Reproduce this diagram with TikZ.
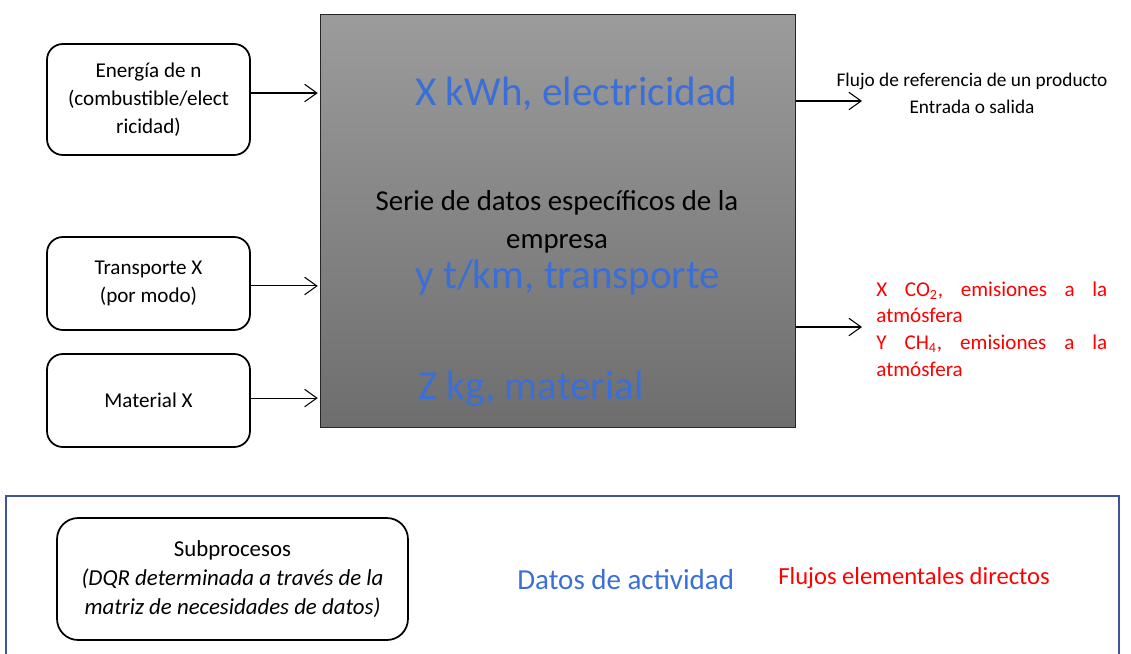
\documentclass[tikz,border=0pt]{standalone}
\usepackage{fontspec}
\setmainfont{Carlito}
\usetikzlibrary{positioning, arrows.meta}
\definecolor{datablue}{RGB}{58,111,216}
\definecolor{flowred}{RGB}{255,0,0}
\definecolor{legendblue}{RGB}{63,85,151}
\tikzset{
    flow/.style={-{Straight Barb[length=7pt,width=10pt]}, line width=0.6pt},
    inbox/.style={draw, line width=1pt, rounded corners=9pt, minimum width=4.06cm,
        align=center, font=\fontsize{12}{15.8}\selectfont},
    process/.style={draw=black!85, line width=0.6pt, minimum width=9.52cm, minimum height=8.28cm,
        top color=black!39, bottom color=black!57},
    activity/.style={text=datablue, inner sep=0pt, font=\fontsize{23.4}{28}\selectfont},
    elemflow/.style={text=flowred, inner sep=0pt, font=\fontsize{12}{15.3}\selectfont},
}

\begin{document}
\begin{tikzpicture}[x=0.02cm, y=-0.02cm]
\useasboundingbox (0,0) rectangle (1131,653);

% proceso central
\node[process] (proc) at (558,221) {};
\node[activity, anchor=base west] (kwh) at (415,105) {X kWh, electricidad};
\node[inner sep=0pt, align=center, anchor=base, font=\fontsize{16.4}{21.5}\selectfont]
    (serie) at (557,248) {Serie de datos específicos de la\\empresa};
\node[activity, anchor=base west] (tkm) at (415,288) {y t/km, transporte};
\node[activity, anchor=base west] (kg) at (418,399) {Z kg, material};

% entradas
\node[inbox, minimum height=2.22cm] (energy) at (148.5,99.5) {Energía de n\\(combustible/elect\\ricidad)};
\node[inbox, minimum height=1.86cm] (transp) at (148.5,283.5) {Transporte X\\(por modo)};
\node[inbox, minimum height=1.86cm] (mater) at (148.5,400.5) {Material X};

\draw[flow, shorten >=1pt] ([yshift=3.7pt]energy.east) -- ([yshift=3.7pt]energy.east -| proc.west);
\draw[flow, shorten >=1pt] ([yshift=-1.4pt]transp.east) -- ([yshift=-1.4pt]transp.east -| proc.west);
\draw[flow, shorten >=1pt] ([yshift=1.4pt]mater.east) -- ([yshift=1.4pt]mater.east -| proc.west);

% salidas
\coordinate (refend) at (862,101);
\coordinate (emisend) at (862,327);
\draw[flow] (refend -| proc.east) -- (refend);
\draw[flow] (emisend -| proc.east) -- (emisend);
\node[inner sep=0pt, align=center, anchor=base, font=\fontsize{11}{15}\selectfont]
    (refflow) at (972,113) {Flujo de referencia de un producto\\Entrada o salida};
\node[elemflow, text width=4.62cm, align=left, anchor=base west] (emis) at (876,296)
    {X\hfill CO\textsubscript{2},\hfill emisiones\hfill a\hfill la\\atmósfera\\
     Y\hfill CH\textsubscript{4},\hfill emisiones\hfill a\hfill la\\atmósfera};

% leyenda
\draw[legendblue, line width=0.9pt] (6,496) rectangle (1119,700);
\node[draw, line width=1pt, rounded corners=12pt, minimum width=7.02cm, minimum height=2.44cm,
    align=center, font=\fontsize{13}{16.5}\selectfont] (subp) at (232.5,579)
    {Subprocesos\\\itshape (DQR determinada a través de la\\\itshape matriz de necesidades de datos)};
\node[text=datablue, font=\fontsize{16.5}{19}\selectfont, anchor=west, inner sep=0pt] (legact) at (517,580) {Datos de actividad};
\node[text=flowred, font=\fontsize{14}{17}\selectfont, anchor=west, inner sep=0pt] (legflow) at (778,578) {Flujos elementales directos};
\end{tikzpicture}
\end{document}
